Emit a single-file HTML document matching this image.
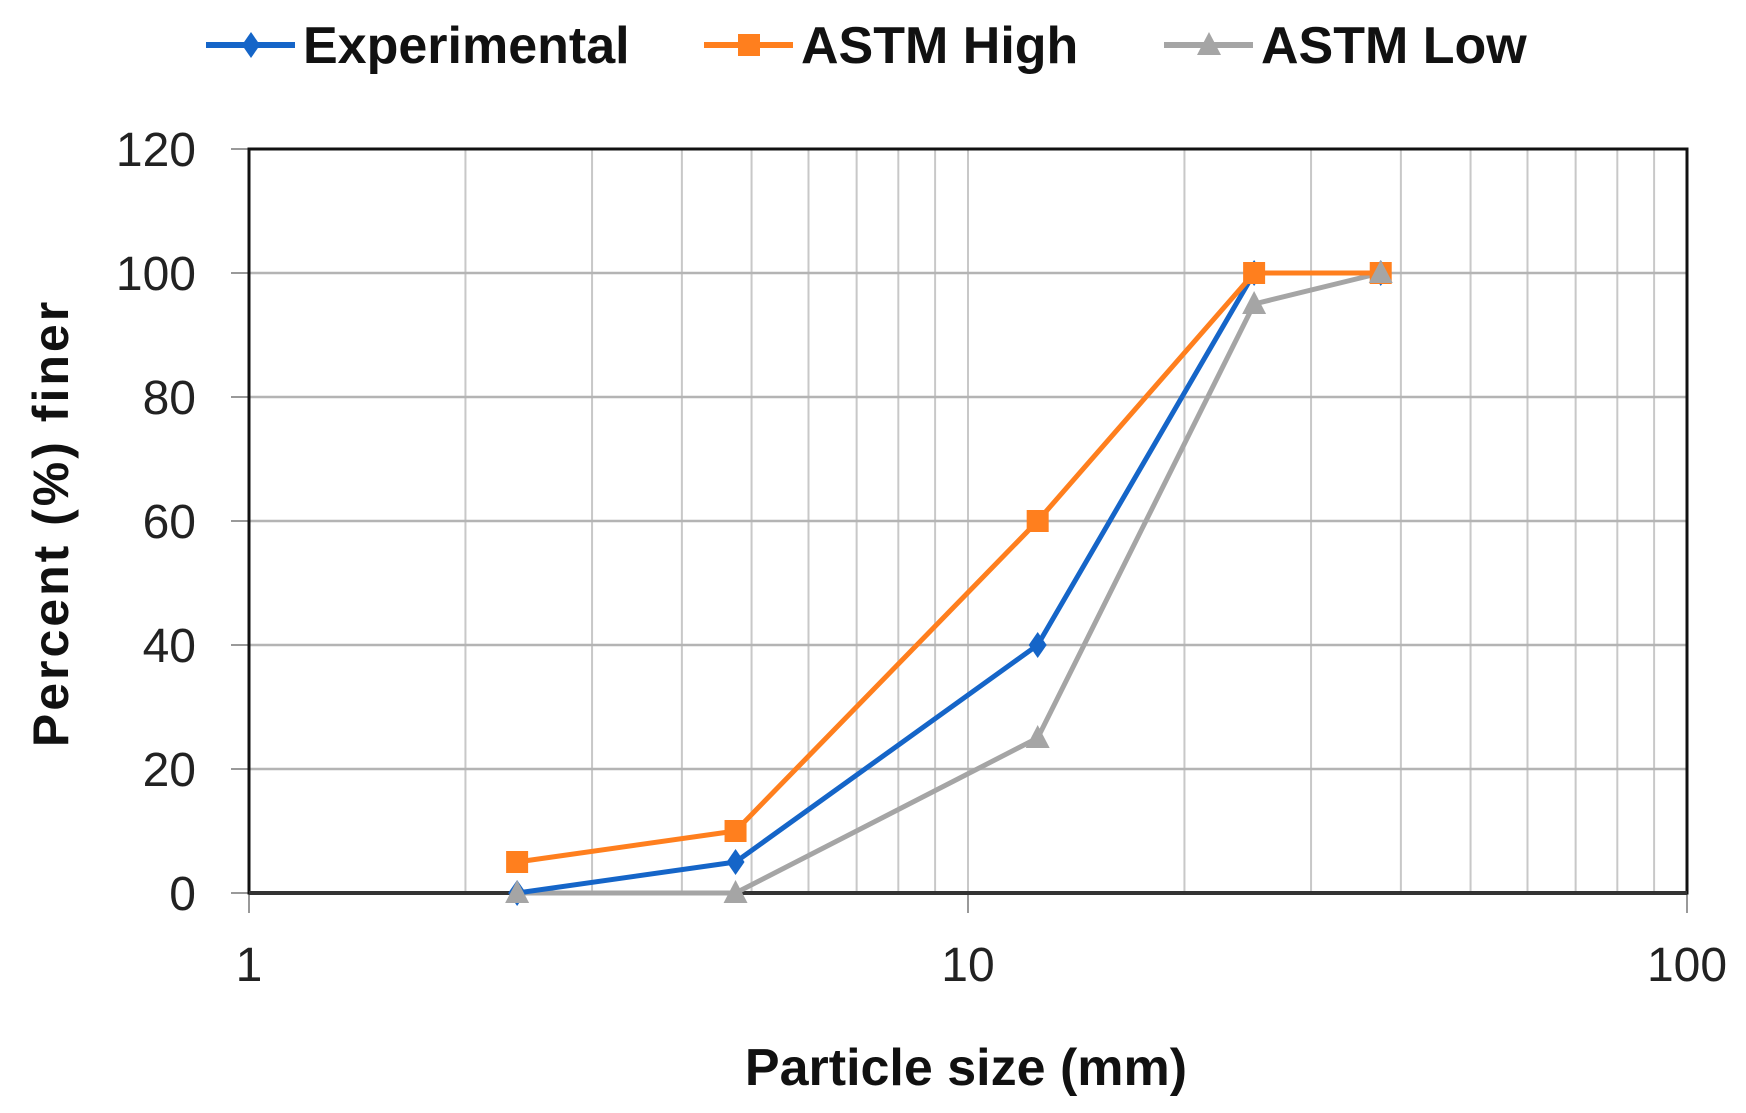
<!DOCTYPE html>
<html><head><meta charset="utf-8"><style>
html,body{margin:0;padding:0;background:#fff;}
svg{display:block;font-family:"Liberation Sans",sans-serif;}
</style></head><body>
<svg id="c" width="1746" height="1113" viewBox="0 0 1746 1113" xmlns="http://www.w3.org/2000/svg"></svg>
<script>
const s=document.getElementById('c');
const L=249,R=1687,T=149,B=893;
const dec=(R-L)/2;
const X=v=>L+Math.log10(v)*dec, Y=v=>B-(v/120)*(B-T);
let h='';
for(let d=0;d<2;d++)for(let k=2;k<=10;k++){const x=X(k*Math.pow(10,d));h+=`<line x1="${x}" y1="${T}" x2="${x}" y2="${B}" stroke="#c8c8c8" stroke-width="2"/>`;}
for(let v=20;v<=100;v+=20)h+=`<line x1="${L}" y1="${Y(v)}" x2="${R}" y2="${Y(v)}" stroke="#b4b4b4" stroke-width="2.5"/>`;
for(let v=0;v<=120;v+=20)h+=`<line x1="${L-18}" y1="${Y(v)}" x2="${L}" y2="${Y(v)}" stroke="#999" stroke-width="2"/>`;
for(let d=0;d<3;d++){const x=X(Math.pow(10,d));h+=`<line x1="${x}" y1="${B}" x2="${x}" y2="${B+20}" stroke="#999" stroke-width="2"/>`;}
h+=`<rect x="${L}" y="${T}" width="${R-L}" height="${B-T}" fill="none" stroke="#111" stroke-width="3"/>`;
h+=`<line x1="${L}" y1="${B}" x2="${R}" y2="${B}" stroke="#333" stroke-width="4"/>`;
for(let v=0;v<=120;v+=20)h+=`<text x="196" y="${Y(v)+17}" font-size="48" text-anchor="end" fill="#222">${v}</text>`;
[1,10,100].forEach((v,i)=>h+=`<text x="${X(v)}" y="${B+88}" font-size="48" text-anchor="middle" fill="#222">${v}</text>`);
h+=`<text x="966" y="1085" font-size="52" font-weight="bold" text-anchor="middle" fill="#111">Particle size (mm)</text>`;
h+=`<text transform="translate(68,523) rotate(-90)" font-size="50" font-weight="bold" letter-spacing="3" text-anchor="middle" fill="#111">Percent (%) finer</text>`;
const xs=[2.36,4.75,12.5,25,37.5];
function mk(t,x,y,c){
 if(t==='d')return `<polygon points="${x},${y-13} ${x+9},${y} ${x},${y+13} ${x-9},${y}" fill="${c}"/>`;
 if(t==='s')return `<rect x="${x-11}" y="${y-11}" width="22" height="22" fill="${c}"/>`;
 return `<polygon points="${x},${y-13} ${x+12},${y+10} ${x-12},${y+10}" fill="${c}"/>`;
}
const series=[
 {c:'#a5a5a5',t:'t',d:[0,0,25,95,100]},
 {c:'#ff7f1e',t:'s',d:[5,10,60,100,100]},
 {c:'#1565c8',t:'d',d:[0,5,40,100,100]},
];
const order=[series[0],series[2],series[1]];
order.forEach(S=>{
 h+=`<polyline points="${xs.map((x,i)=>X(x)+','+Y(S.d[i])).join(' ')}" fill="none" stroke="${S.c}" stroke-width="5" stroke-linejoin="round"/>`;
});
[series[2],series[1],series[0]].forEach(S=>{xs.forEach((x,i)=>h+=mk(S.t,X(x),Y(S.d[i]),S.c));});
const lg=[[206,'#1565c8','d','Experimental'],[704,'#ff7f1e','s','ASTM High'],[1164,'#a5a5a5','t','ASTM Low']];
lg.forEach(([x,c,t,n])=>{h+=`<line x1="${x}" y1="45" x2="${x+89}" y2="45" stroke="${c}" stroke-width="6"/>`+mk(t,x+45,45,c)+`<text x="${x+97}" y="63" font-size="52" font-weight="bold" fill="#111">${n}</text>`;});
s.innerHTML=h;
</script>
</body></html>
